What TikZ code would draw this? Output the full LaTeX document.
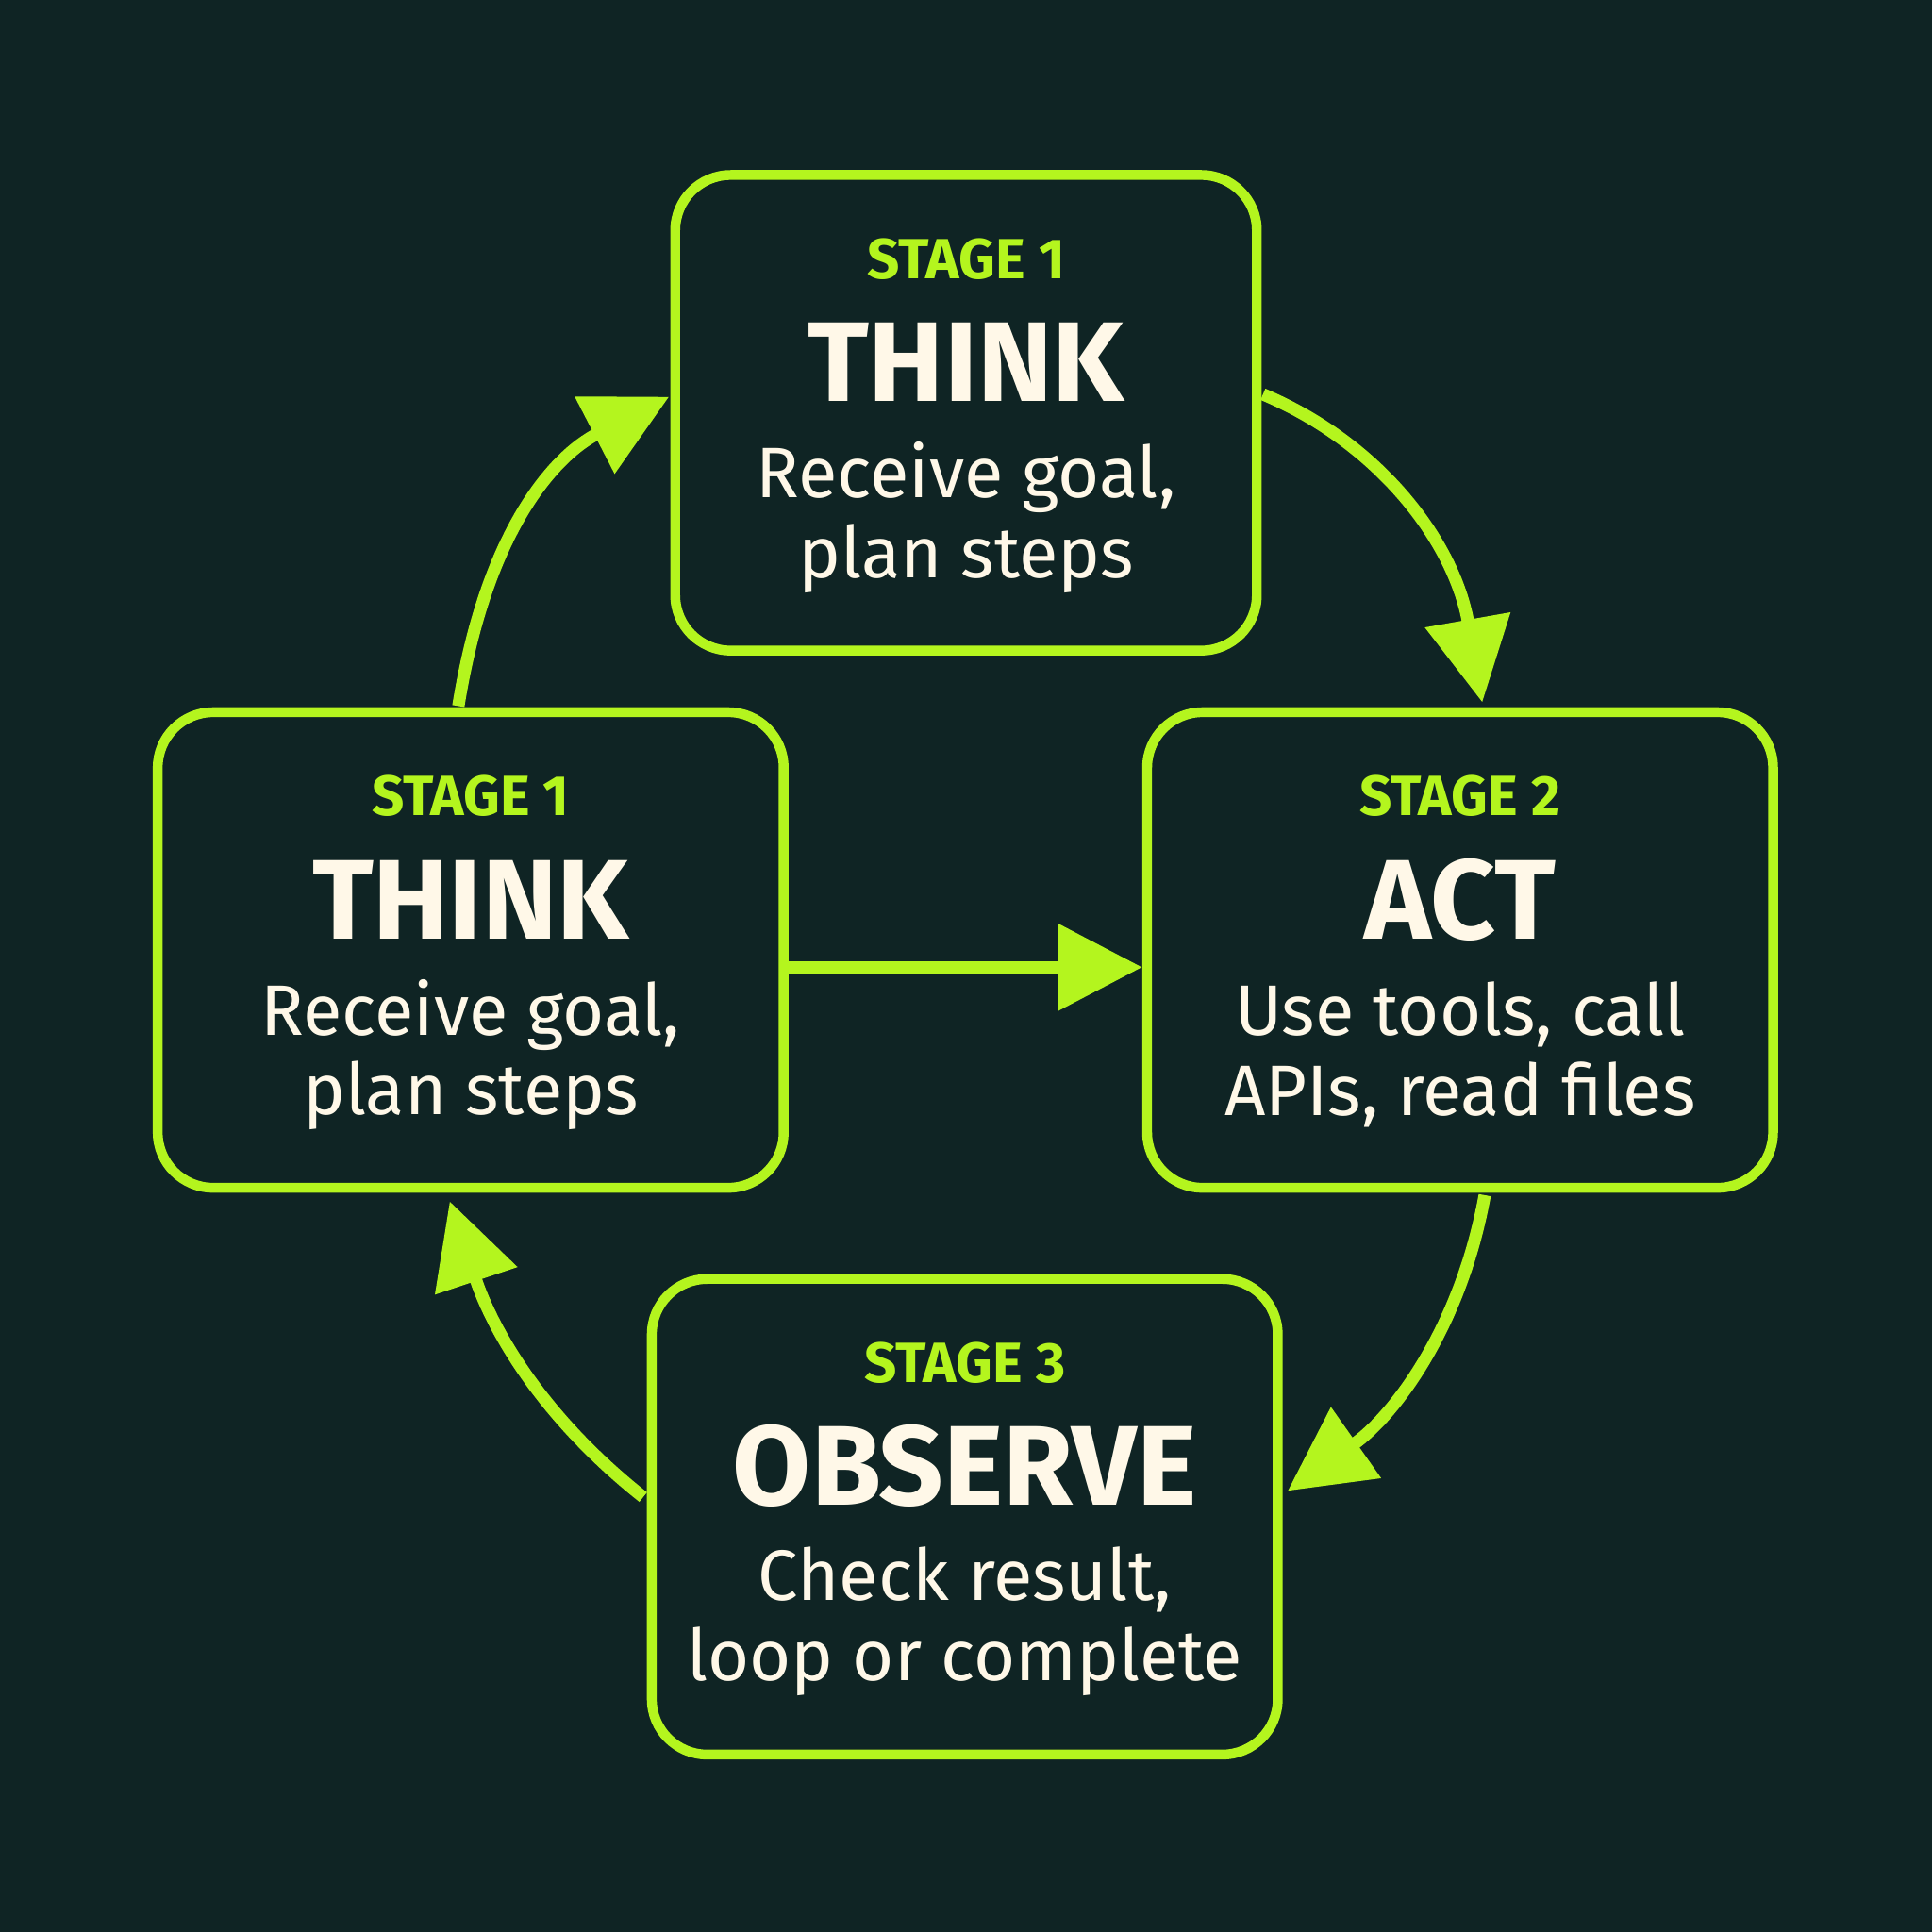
\documentclass[tikz,border=0pt]{standalone}
\usepackage{fontspec}
\setmainfont{Fira Sans}
\usetikzlibrary{arrows.meta}
\definecolor{bg}{HTML}{0F2424}
\definecolor{lime}{HTML}{B4F51E}
\definecolor{cream}{HTML}{FFF8E8}
\begin{document}
\begin{tikzpicture}[x=1pt,y=-1pt,
  box/.style={draw=lime,line width=8pt,rounded corners=45pt,fill=bg,minimum width=508pt,minimum height=386pt,inner sep=0pt},
  flow/.style={draw=lime,line width=10pt,-{Triangle[length=68pt,width=68pt]}},
  stg/.style={text=lime,font=\fontsize{46}{50}\selectfont\bfseries},
  ttl/.style={text=cream,font=\fontsize{92}{96}\selectfont\bfseries},
  dsc/.style={text=cream,align=center,font=\fontsize{58}{65}\selectfont}]
\fill[bg] (0,0) rectangle (1568,1568);
\useasboundingbox (0,0) rectangle (1568,1568);
\node[box,minimum width=472pt] (top) at (784,335) {};
\node[box] (left) at (382,771) {};
\node[box] (act) at (1185,771) {};
\node[box] (obs) at (783,1231) {};
\foreach \b/\s/\t/\d in {top/STAGE 1/THINK/{Receive goal,\\plan steps},left/STAGE 1/THINK/{Receive goal,\\plan steps},act/STAGE 2/ACT/{Use tools, call\\APIs, read files},obs/STAGE 3/OBSERVE/{Check result,\\loop or complete}}{
  \node[stg] (\b s) at ([yshift=125pt]\b.center) {\s};
  \node[ttl] (\b t) at ([yshift=41pt]\b.center) {\t};
  \node[dsc] (\b d) at ([yshift=-85pt]\b.center) {\d};
}
\coordinate (a1s) at (372,573); \coordinate (a1e) at (543,322);
\coordinate (a2s) at (1025,320); \coordinate (a2e) at (1203,570);
\coordinate (a4s) at (1205,970); \coordinate (a4e) at (1045,1210);
\coordinate (a5s) at (522,1215); \coordinate (a5e) at (365,975);
\draw[flow] (a1s) .. controls (395,430) and (450,370) .. (a1e);
\draw[flow] (a2s) .. controls (1120,360) and (1180,440) .. (a2e);
\draw[flow] ([yshift=-14pt]left.east) -- ([yshift=-14pt]act.west);
\draw[flow] (a4s) .. controls (1185,1080) and (1130,1150) .. (a4e);
\draw[flow] (a5s) .. controls (440,1150) and (400,1080) .. (a5e);
\end{tikzpicture}
\end{document}
